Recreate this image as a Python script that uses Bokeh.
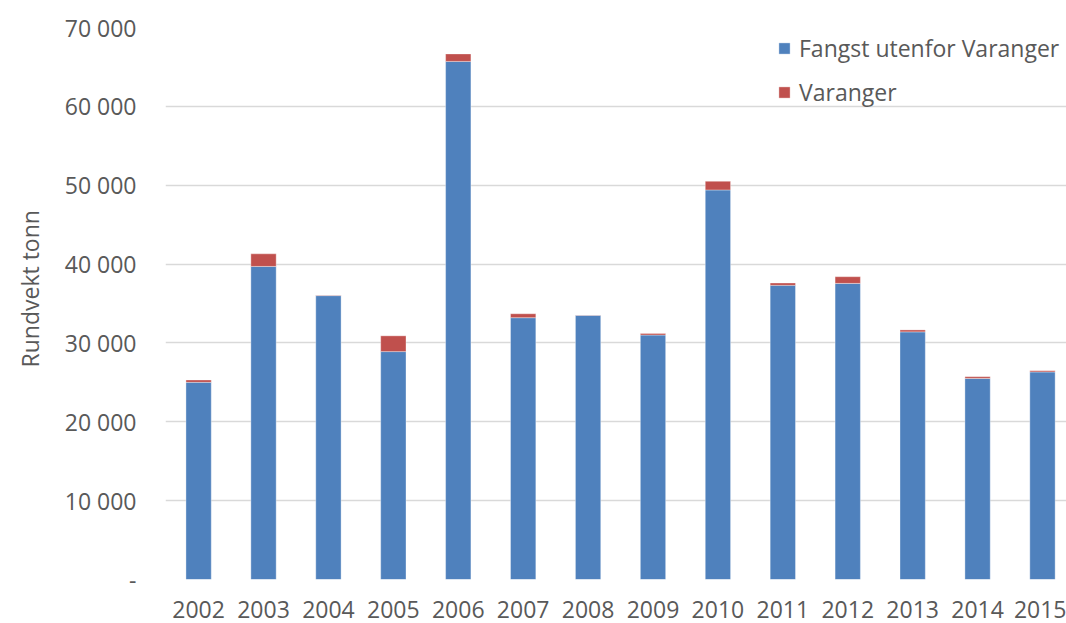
from bokeh.plotting import figure
from bokeh.models import FixedTicker, Range1d, ColumnDataSource, Legend, LegendItem, Title
from bokeh.embed import file_html
from bokeh.resources import INLINE

years = [2002, 2003, 2004, 2005, 2006, 2007, 2008, 2009, 2010, 2011, 2012, 2013, 2014, 2015]
fangst_utenfor = [25000, 39700, 36000, 28900, 65700, 33200, 33500, 31000, 49400, 37300, 37550, 31400, 25500, 26320]
varanger = [300, 1600, 50, 2000, 950, 500, 30, 200, 1100, 300, 850, 250, 220, 160]
y_ticks = [0, 10000, 20000, 30000, 40000, 50000, 60000, 70000]
y_tick_labels = ["-", "10 000", "20 000", "30 000", "40 000", "50 000", "60 000", "70 000"]
series_names = ["Fangst utenfor Varanger", "Varanger"]
y_title = "Rundvekt tonn"
colors = ["#4F81BD", "#C0504D"]

FONT = "Open Sans"
TXT = "#595959"

src = ColumnDataSource(dict(year=years, a=fangst_utenfor, b=varanger))

p = figure(width=1066, height=623, output_backend="svg", toolbar_location=None,
           x_range=Range1d(2001.49, 2015.37), y_range=Range1d(0, 70000),
           min_border_left=165, min_border_right=0, min_border_top=27, min_border_bottom=44)
p.outline_line_color = None

r = p.vbar_stack(["a", "b"], x="year", width=0.39, source=src, color=colors,
                 line_color="white", line_alpha=0.35, line_width=1)

p.xgrid.grid_line_color = None
p.ygrid.grid_line_color = "#D9D9D9"
p.ygrid.grid_line_width = 1.5
p.ygrid.ticker = FixedTicker(ticks=y_ticks)

p.yaxis.ticker = FixedTicker(ticks=y_ticks)
p.yaxis.major_label_overrides = {t: l for t, l in zip(y_ticks, y_tick_labels)}
p.yaxis.axis_line_color = None
p.yaxis.major_tick_line_color = None
p.yaxis.minor_tick_line_color = None
p.yaxis.major_label_standoff = 23
p.yaxis.major_label_text_font = FONT
p.yaxis.major_label_text_font_size = "23px"
p.yaxis.major_label_text_color = TXT

ytitle = Title(text=y_title, align="left", offset=212, standoff=27, vertical_align="top",
               text_font=FONT, text_font_size="23px", text_font_style="normal",
               text_color=TXT)
p.add_layout(ytitle, "left")

p.xaxis.ticker = FixedTicker(ticks=years)
p.xaxis.axis_line_color = None
p.xaxis.major_tick_line_color = None
p.xaxis.minor_tick_line_color = None
p.xaxis.major_label_standoff = 15
p.xaxis.major_label_text_font = FONT
p.xaxis.major_label_text_font_size = "23px"
p.xaxis.major_label_text_color = TXT

legend = Legend(items=[LegendItem(label=series_names[0], renderers=[r[0]]),
                       LegendItem(label=series_names[1], renderers=[r[1]])],
                location=(612, 471))
legend.glyph_width = 14
legend.glyph_height = 14
legend.label_standoff = 8
legend.padding = 0
legend.margin = 0
legend.spacing = 12
legend.border_line_color = None
legend.background_fill_alpha = 0
legend.label_text_font = FONT
legend.label_text_font_size = "23px"
legend.label_text_color = TXT
p.add_layout(legend)

open("out.html", "w").write(file_html(p, INLINE))
